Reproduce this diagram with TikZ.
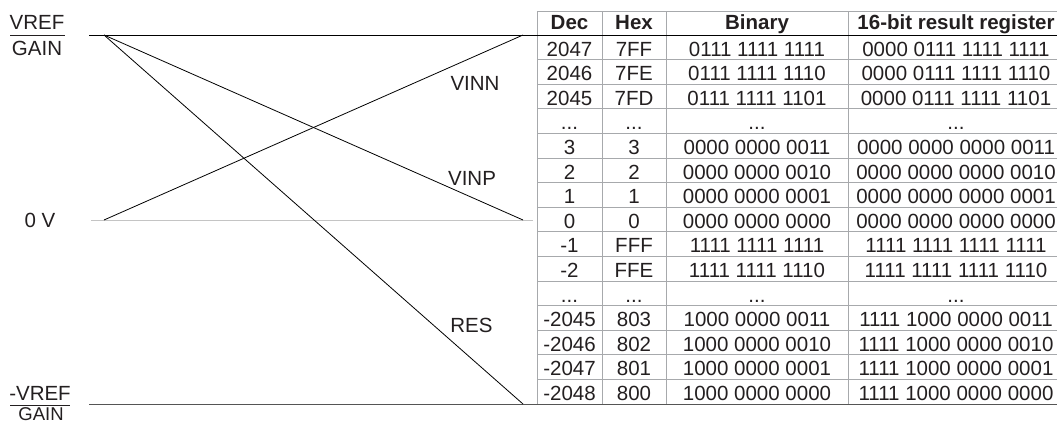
\documentclass[tikz,border=0pt]{standalone}
\usepackage{fontspec}
\setmainfont{Liberation Sans}
\definecolor{txt}{HTML}{231F20}
\definecolor{gridc}{HTML}{A7A9AC}
\definecolor{zeroc}{HTML}{C4C4C4}
\definecolor{botc}{HTML}{555555}
\newcommand\tdots{...}
\begin{document}
\begin{tikzpicture}[x=1pt,y=-1pt,
  lbl/.style={font=\fontsize{20.5}{24}\selectfont, text=txt, inner sep=0pt, anchor=base},
  hdr/.style={lbl, font=\fontsize{20.5}{24}\selectfont\bfseries},
  gridline/.style={draw=gridc, line width=1pt},
  sig/.style={draw=black, line width=0.8pt},
  fracbar/.style={draw=txt, line width=0.8pt}]
\useasboundingbox (0,0) rectangle (1057,424);

% ---- table grid ----
\draw[gridline] (537,11) -- (1057,11);
\foreach \k in {1,2,3,4,5,6,7,8,9,10,11,12,13,14}
  \draw[gridline] (537,{35+24.6*\k}) -- (1057,{35+24.6*\k});
\foreach \x in {537,602,666,848}
  \draw[gridline] (\x,11) -- (\x,404.5);

% ---- level lines ----
\coordinate (topL) at (89,35);
\coordinate (topR) at (1057,35);
\coordinate (zeroL) at (91,220);
\coordinate (zeroR) at (533,220);
\coordinate (botL) at (89,404.5);
\coordinate (botR) at (1057,404.5);
\draw[sig] (topL) -- (topR);
\draw[draw=zeroc, line width=1pt] (zeroL) -- (zeroR);
\draw[draw=botc, line width=1.2pt] (botL) -- (botR);

% ---- signal lines ----
\coordinate (hiS) at (104,35);
\coordinate (zeroS) at (104,220);
\coordinate (hiE) at (523,35);
\coordinate (zeroE) at (523,220);
\coordinate (loE) at (523,404);
\draw[sig] (zeroS) -- (hiE);   % VINN
\draw[sig] (hiS) -- (zeroE);   % VINP
\draw[sig] (hiS) -- (loE);     % RES

\node[lbl] (vinn) at (475,90) {VINN};
\node[lbl] (vinp) at (472,185) {VINP};
\node[lbl] (res)  at (471.5,332.7) {RES};

% ---- left labels ----
\node[lbl] (vref) at (37,29.3) {VREF};
\draw[fracbar] (10,35) -- (65,35);
\node[lbl] (gain) at (37,55) {GAIN};
\node[lbl] (zv) at (40,227.3) {0 V};
\node[lbl] (nvref) at (40,400.7) {-VREF};
\draw[fracbar] (10,405) -- (70,405);
\node[lbl, font=\fontsize{18.5}{22}\selectfont] (ngain) at (41,420.5) {GAIN};

% ---- header ----
\node[hdr] (hdec) at (569.5,29.5) {Dec};
\node[hdr] (hhex) at (634,29.5) {Hex};
\node[hdr] (hbin) at (757,29.5) {Binary};
\node[hdr] (hreg) at (956,29.5) {16-bit result register};

% ---- rows ----
\foreach \dec/\hex/\bin/\reg [count=\i from 0] in {
  2047/7FF/0111 1111 1111/0000 0111 1111 1111,
  2046/7FE/0111 1111 1110/0000 0111 1111 1110,
  2045/7FD/0111 1111 1101/0000 0111 1111 1101,
  \tdots/\tdots/\tdots/\tdots,
  3/3/0000 0000 0011/0000 0000 0000 0011,
  2/2/0000 0000 0010/0000 0000 0000 0010,
  1/1/0000 0000 0001/0000 0000 0000 0001,
  0/0/0000 0000 0000/0000 0000 0000 0000,
  -1/FFF/1111 1111 1111/1111 1111 1111 1111,
  -2/FFE/1111 1111 1110/1111 1111 1111 1110,
  \tdots/\tdots/\tdots/\tdots,
  -2045/803/1000 0000 0011/1111 1000 0000 0011,
  -2046/802/1000 0000 0010/1111 1000 0000 0010,
  -2047/801/1000 0000 0001/1111 1000 0000 0001,
  -2048/800/1000 0000 0000/1111 1000 0000 0000}
{
  \pgfmathsetmacro{\yb}{35+24.6*\i+21}
  \node[lbl] (d\i) at (569.5,\yb) {\dec};
  \node[lbl] (h\i) at (634,\yb) {\hex};
  \node[lbl] (b\i) at (757,\yb) {\bin};
  \node[lbl] (r\i) at (956,\yb) {\reg};
}
\end{tikzpicture}
\end{document}
